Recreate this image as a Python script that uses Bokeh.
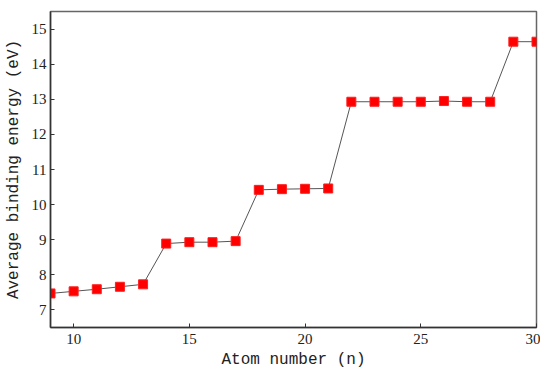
from bokeh.plotting import figure
from bokeh.models import Range1d, FixedTicker
from bokeh.embed import file_html
from bokeh.resources import INLINE

atoms = [9, 10, 11, 12, 13, 14, 15, 16, 17, 18, 19, 20, 21, 22, 23, 24, 25, 26, 27, 28, 29, 30]
energy = [7.47, 7.53, 7.59, 7.66, 7.73, 8.89, 8.93, 8.93, 8.96, 10.42, 10.44, 10.45, 10.46,
          12.93, 12.93, 12.93, 12.93, 12.95, 12.93, 12.93, 14.64, 14.64]
x_ticks = [10, 15, 20, 25, 30]
y_ticks = [7, 8, 9, 10, 11, 12, 13, 14, 15]

p = figure(frame_width=486, frame_height=316, output_backend="svg", toolbar_location=None,
           x_range=Range1d(9, 30), y_range=Range1d(6.5, 15.5),
           min_border_left=50, min_border_right=4, min_border_top=11, min_border_bottom=42)
p.line(atoms, energy, line_color="#555555", line_width=1)
p.scatter(atoms, energy, marker="square", size=9, fill_color="#ff0000", line_color="#ff2020")

p.grid.visible = False
p.outline_line_color = "#666666"
p.outline_line_width = 1.5

for ax in (p.xaxis, p.yaxis):
    ax.major_tick_in = 4
    ax.major_tick_out = 0
    ax.minor_tick_line_color = None
    ax.axis_line_color = "#333333"
    ax.axis_line_width = 1.5
    ax.major_tick_line_color = "#333333"
    ax.major_label_text_font = "Liberation Serif"
    ax.major_label_text_font_size = "15px"
    ax.major_label_text_color = "#222222"
    ax.axis_label_text_font = "Liberation Mono"
    ax.axis_label_text_font_size = "16px"
    ax.axis_label_text_font_style = "normal"
    ax.axis_label_text_color = "#222222"

p.xaxis.ticker = FixedTicker(ticks=x_ticks)
p.yaxis.ticker = FixedTicker(ticks=y_ticks)
p.xaxis.axis_label = "Atom number (n)"
p.yaxis.axis_label = "Average binding energy (eV)"
p.xaxis.major_label_standoff = 6
p.yaxis.major_label_standoff = 4
p.xaxis.axis_label_standoff = 4
p.yaxis.axis_label_standoff = 6

open("out.html", "w").write(file_html(p, INLINE))
